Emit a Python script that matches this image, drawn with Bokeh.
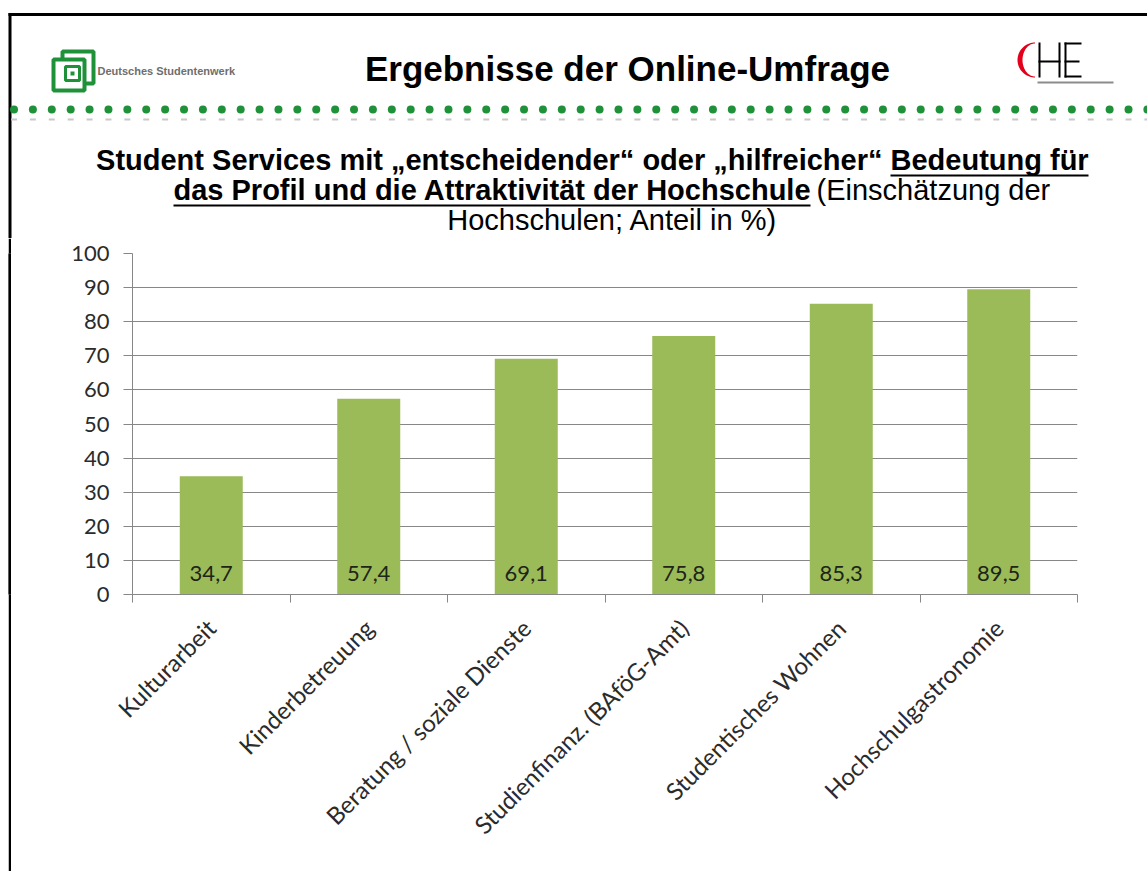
import math
import numpy as np
from bokeh.plotting import figure
from bokeh.layouts import column, row
from bokeh.models import Range1d, FixedTicker, LabelSet, ColumnDataSource, Spacer
from bokeh.core.properties import value
from bokeh.embed import file_html
from bokeh.resources import INLINE

# ---------------- data ----------------
categories = ["Kulturarbeit", "Kinderbetreuung", "Beratung / soziale Dienste",
              "Studienfinanz. (BAföG-Amt)", "Studentisches Wohnen", "Hochschulgastronomie"]
values = [34.7, 57.4, 69.1, 75.8, 85.3, 89.5]
value_labels = ["34,7", "57,4", "69,1", "75,8", "85,3", "89,5"]
y_ticks = [0, 10, 20, 30, 40, 50, 60, 70, 80, 90, 100]

header_title = "Ergebnisse der Online-Umfrage"
logo_text = "Deutsches Studentenwerk"
sub1_plain = "Student Services mit \u201eentscheidender\u201c oder \u201ehilfreicher\u201c"
sub1_under = "Bedeutung f\u00fcr"
sub2_under = "das Profil und die Attraktivit\u00e4t der Hochschule"
sub2_plain = "(Einsch\u00e4tzung der"
sub3_plain = "Hochschulen; Anteil in %)"

# ---------------- layout (page pixels) ----------------
W, H = 1147, 871
HEAD_H = 238          # header figure height
BL, BW = 8, 3         # slide border: left offset and width
FL, FR, FT, FB = 132, 1077, 253, 594   # chart frame edges on the page
BASE_SHIFT = 0.37     # measured glyph baseline offset (fraction of font size)

GRID = "#878787"
BAR = "#9BBB59"
GREEN = "#1f9139"
TXT = "#2b2b2b"
SANS = value("Liberation Sans")


def blank(width, height, xr, yr, bg="white"):
    f = figure(width=width, height=height, x_range=xr, y_range=yr,
               output_backend="svg", toolbar_location=None,
               x_axis_location=None, y_axis_location=None,
               min_border=0, min_border_left=0, min_border_right=0,
               min_border_top=0, min_border_bottom=0)
    f.outline_line_color = None
    f.xgrid.visible = False
    f.ygrid.visible = False
    f.background_fill_color = bg
    f.border_fill_color = bg
    return f

# ---------------- header figure (page pixel coordinates) ----------------
hd = blank(W, HEAD_H, Range1d(0, W), Range1d(0, HEAD_H))

def Y(y):
    return HEAD_H - y

def rect(f, l, t, r, b, fill="black", line=None, lw=1):
    f.quad(left=[l], right=[r], top=[Y(t)], bottom=[Y(b)], fill_color=fill,
           fill_alpha=1 if fill else 0, line_color=line, line_width=lw)

def txt(f, x, y, s, size, bold=False, align="left", color="black"):
    f.text(x=[x], y=[Y(y - BASE_SHIFT * size)], text=[s], text_font=SANS,
           text_font_size=f"{size}px",
           text_font_style="bold" if bold else "normal", text_align=align,
           text_baseline="alphabetic", text_color=color)

# slide border (top + left part)
rect(hd, BL, 12.5, W + 5, 15.5)
rect(hd, BL, 12.5, BL + BW, HEAD_H + 2)

# DSW logo
rect(hd, 62, 51, 93, 83, fill=None, line=GREEN, lw=4)
rect(hd, 53, 59, 84, 90, fill="white", line=GREEN, lw=4)
rect(hd, 65, 66, 79, 80, fill=None, line=GREEN, lw=3)
rect(hd, 70, 71, 74, 75, fill=GREEN)
txt(hd, 97, 75, logo_text, 11, bold=True, color="#6e6e6e")

# CHE logo
cx, cy = 1034.5, 59.5
ts = np.linspace(math.pi / 2, 3 * math.pi / 2, 40)
outer_x = [cx + 17.5 * math.cos(t) for t in ts]
outer_y = [Y(cy - 17.5 * math.sin(t)) for t in ts]
inner_x = [cx + 12.5 * math.cos(t) for t in ts[::-1]]
inner_y = [Y(cy - 16.5 * math.sin(t)) for t in ts[::-1]]
hd.patch(x=outer_x + inner_x, y=outer_y + inner_y, fill_color="#e2001a", line_color=None)
rect(hd, 1038, 42, 1040, 77)
rect(hd, 1058, 42, 1060, 77)
rect(hd, 1038, 60, 1060, 62)
rect(hd, 1064, 42, 1066, 77)
rect(hd, 1064, 42, 1081, 44)
rect(hd, 1064, 60, 1079, 62)
rect(hd, 1064, 75, 1081, 77)
rect(hd, 1037, 81, 1113, 83, fill="#8c8c8c")

# dotted separator
dot_x = [13.5 + i * 18.89 for i in range(61)]
hd.scatter(x=dot_x, y=[Y(109)] * len(dot_x), size=8, marker="circle",
           fill_color=GREEN, line_color=None)
hd.quad(left=[c - 3 for c in dot_x], right=[c + 3 for c in dot_x],
        top=[Y(118)] * len(dot_x), bottom=[Y(120)] * len(dot_x),
        fill_color="#c8c8c8", line_color=None)

# header title
txt(hd, 627, 81, header_title, 35, bold=True, align="center")

# subtitle
txt(hd, 882, 170, sub1_plain, 29, bold=True, align="right")
txt(hd, 890, 170, sub1_under, 29, bold=True, align="left")
rect(hd, 890, 174, 1088, 176)
txt(hd, 173, 200, sub2_under, 29, bold=True, align="left")
rect(hd, 173, 204, 810, 206)
txt(hd, 816, 200, sub2_plain, 29, bold=False, align="left")
txt(hd, 612, 230, sub3_plain, 29, bold=False, align="center")

# ---------------- slide border strip (left) ----------------
BODY_H = H - HEAD_H
st = blank(BW, BODY_H, Range1d(0, 1), Range1d(0, 1), bg="black")
st.quad(left=[0], right=[1], top=[1], bottom=[0], fill_color="black", line_color=None)

# ---------------- chart figure ----------------
n = len(categories)
centers = [i + 0.5 for i in range(n)]
bounds = list(range(n + 1))
X0 = BL + BW
CW = W - X0

p = figure(width=CW, height=BODY_H,
           x_range=Range1d(0, n), y_range=Range1d(0, 100),
           output_backend="svg", toolbar_location=None,
           min_border_left=FL - X0, min_border_right=W - FR,
           min_border_top=FT - HEAD_H, min_border_bottom=BODY_H - (FB - HEAD_H))
p.outline_line_color = None
p.background_fill_color = "white"
p.border_fill_color = "white"
p.xgrid.visible = False

p.yaxis.ticker = FixedTicker(ticks=y_ticks)
p.ygrid.ticker = FixedTicker(ticks=y_ticks)
p.ygrid.grid_line_color = GRID
p.ygrid.grid_line_width = 1
p.yaxis.axis_line_color = GRID
p.yaxis.major_tick_line_color = GRID
p.yaxis.minor_tick_line_color = None
p.yaxis.major_tick_out = 9
p.yaxis.major_tick_in = 0
p.yaxis.major_label_standoff = 14
p.yaxis.major_label_text_font = "Lato"
p.yaxis.major_label_text_font_size = "22px"
p.yaxis.major_label_text_color = TXT

p.xaxis.ticker = FixedTicker(ticks=centers, minor_ticks=bounds)
p.xaxis.major_label_overrides = {c: name for c, name in zip(centers, categories)}
p.xaxis.axis_line_color = GRID
p.xaxis.major_tick_line_color = None
p.xaxis.major_tick_out = 0
p.xaxis.major_tick_in = 0
p.xaxis.minor_tick_line_color = GRID
p.xaxis.minor_tick_out = 8
p.xaxis.minor_tick_in = 0
p.xaxis.major_label_orientation = math.pi / 4
p.xaxis.major_label_standoff = 21
p.xaxis.major_label_text_font = "Lato"
p.xaxis.major_label_text_font_size = "24px"
p.xaxis.major_label_text_color = TXT

src = ColumnDataSource(dict(x=centers, val=values, lab=value_labels, base=[0] * n))
p.vbar(x="x", top="val", width=0.4, source=src, fill_color=BAR, line_color=None)
p.add_layout(LabelSet(x="x", y="base", text="lab", source=src, y_offset=14,
                      text_align="center", text_baseline="alphabetic",
                      text_font=value("Lato"), text_font_size="22px",
                      text_color="#1e2418"))

layout = column(hd, row(Spacer(width=BL, height=BODY_H), st, p, spacing=0), spacing=0)
open("out.html", "w").write(file_html(layout, INLINE))
